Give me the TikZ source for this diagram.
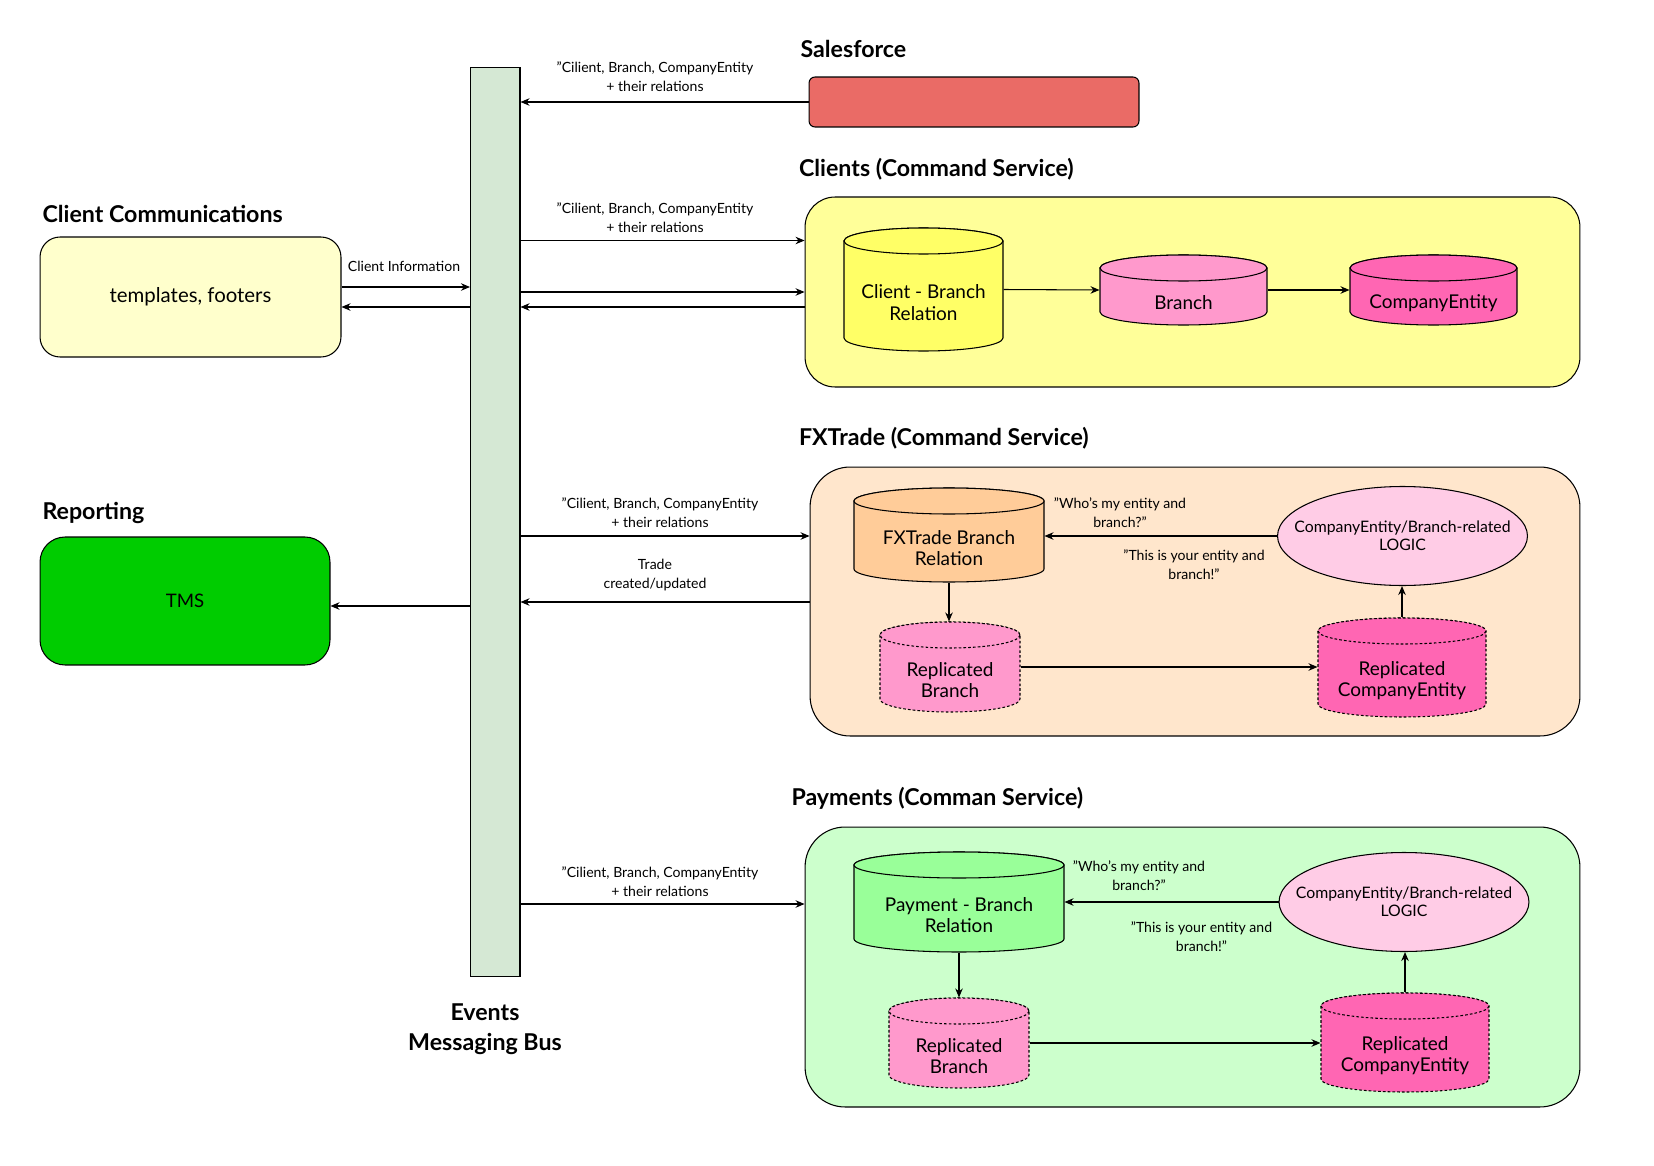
\documentclass[tikz,border=0pt]{standalone}
\usepackage{fontspec}
\setmainfont{Lato}
\usepackage{tikz}
\usetikzlibrary{arrows.meta,shapes.geometric}

\definecolor{busgreen}{HTML}{D5E8D4}
\definecolor{sfred}{HTML}{EA6B66}
\definecolor{commyellow}{HTML}{FFFFCC}
\definecolor{clyellow}{HTML}{FFFF99}
\definecolor{relyellow}{HTML}{FFFF66}
\definecolor{branchpink}{HTML}{FF99CC}
\definecolor{entitypink}{HTML}{FF66B3}
\definecolor{tmsgreen}{HTML}{00CC00}
\definecolor{fxorange}{HTML}{FFE6CC}
\definecolor{relorange}{HTML}{FFCC99}
\definecolor{logicpink}{HTML}{FFCCE6}
\definecolor{paygreen}{HTML}{CCFFCC}
\definecolor{relgreen}{HTML}{99FF99}

% database cylinder: name, cx, cy, half width, half height, style, text
\newcommand{\dbcyl}[7]{%
  \filldraw[#6] (#2-#4,#3-#5+13) -- (#2-#4,#3+#5-13)
    arc[start angle=180, end angle=0, x radius=#4, y radius=13]
    -- (#2+#4,#3-#5+13)
    arc[start angle=0, end angle=-180, x radius=#4, y radius=13] -- cycle;
  \filldraw[#6] (#2,#3-#5+13) ellipse[x radius=#4, y radius=13];
  \node[dbbox, minimum width=#4*0.04cm, minimum height=#5*0.04cm] (#1) at (#2,#3) {};
  \node[dbtext] (#1-t) at (#2,#3+13) {#7};
}

\begin{document}
\begin{tikzpicture}[x=0.02cm, y=-0.02cm, line width=0.6pt,
    heading/.style={font=\fontsize{13.2}{17.4}\selectfont\bfseries, anchor=west, inner sep=0},
    lbl/.style={font=\fontsize{8}{10.8}\selectfont, align=center, inner sep=0},
    dbtext/.style={font=\fontsize{10.8}{12.2}\selectfont, align=center, inner sep=0},
    dbbox/.style={draw=none, inner sep=0, rectangle},
    box/.style={draw, inner sep=0},
    logic/.style={draw, ellipse, fill=logicpink, inner xsep=-0.55cm, inner ysep=0,
      minimum width=5cm, minimum height=1.98cm, font=\fontsize{9}{10.5}\selectfont, align=center},
    repl/.style={dash pattern=on 1.5pt off 1.2pt},
    flow/.style={-{Stealth[length=1.8mm,width=1.5mm]}}]
  \useasboundingbox[fill=white] (0,0) rectangle (1654,1166);

  % messaging bus
  \node[box, fill=busgreen, minimum width=0.99cm, minimum height=18.19cm] (bus) at (495.25,522.25) {};
  \node[heading, anchor=center, align=center] (buslbl) at (485,1029) {Events\\Messaging Bus};

  % salesforce
  \node[heading] (sfhead) at (800,48.5) {Salesforce};
  \node[box, fill=sfred, rounded corners=0.12cm, minimum width=6.6cm, minimum height=1cm] (sf) at (974,102) {};

  % client communications
  \node[heading] (commhead) at (42,214) {Client Communications};
  \node[box, fill=commyellow, rounded corners=0.4cm, minimum width=6.02cm, minimum height=2.4cm,
    font=\fontsize{11.6}{13}\selectfont] (comm) at (190.5,297) {templates, footers};

  % reporting
  \node[heading] (rephead) at (42,513) {Reporting};
  \node[box, fill=tmsgreen, rounded corners=0.5cm, minimum width=5.8cm, minimum height=2.56cm,
    font=\fontsize{10.6}{12}\selectfont] (tms) at (185,601) {TMS};

  % clients service
  \node[heading] (clhead) at (798.5,169) {Clients (Command Service)};
  \node[box, fill=clyellow, rounded corners=0.6cm, minimum width=15.5cm, minimum height=3.8cm] (cl) at (1192.5,292) {};
  \dbcyl{cb}{923.5}{289.5}{79.5}{61.5}{fill=relyellow}{Client - Branch\\Relation}
  \dbcyl{br}{1183.5}{290}{83.5}{35}{fill=branchpink}{Branch}
  \dbcyl{ce}{1433.5}{290}{83.5}{35}{fill=entitypink}{CompanyEntity}
  \draw[flow] (cb.east) -- (br.west);
  \draw[flow] (br.east) -- (ce.west);

  % fxtrade service
  \node[heading] (fxhead) at (798.5,438) {FXTrade (Command Service)};
  \node[box, fill=fxorange, rounded corners=0.8cm, minimum width=15.4cm, minimum height=5.38cm] (fx) at (1195,601.5) {};
  \dbcyl{fxr}{949}{535}{95}{47}{fill=relorange}{FXTrade Branch\\Relation}
  \dbcyl{fxrb}{950}{667}{70}{45}{fill=branchpink, repl}{Replicated\\Branch}
  \dbcyl{fxrce}{1402}{667.5}{84}{49.5}{fill=entitypink, repl}{Replicated\\CompanyEntity}
  \node[logic] (fxlg) at (1402.5,536) {CompanyEntity/Branch-related\\LOGIC};
  \draw[flow] (fxlg.west) -- (fxlg.west -| fxr.east);
  \draw[flow] (fxr.south) -- (fxr.south |- fxrb.north);
  \draw[flow] (fxrb.east) -- (fxrb.east -| fxrce.west);
  \draw[flow] (fxrce.north) -- (fxrce.north |- fxlg.south);
  \node[lbl] (fxask) at (1120,512.6) {"Who's my entity and\\branch?"};
  \node[lbl] (fxans) at (1194,565) {"This is your entity and\\branch!"};

  % payments service
  \node[heading] (payhead) at (791,798.5) {Payments (Comman Service)};
  \node[box, fill=paygreen, rounded corners=0.8cm, minimum width=15.5cm, minimum height=5.6cm] (pay) at (1192.5,967) {};
  \dbcyl{pr}{959}{902}{105}{50}{fill=relgreen}{Payment - Branch\\Relation}
  \dbcyl{prb}{959}{1043}{70}{45}{fill=branchpink, repl}{Replicated\\Branch}
  \dbcyl{prce}{1405}{1042.5}{84}{49.5}{fill=entitypink, repl}{Replicated\\CompanyEntity}
  \node[logic] (pylg) at (1404,902) {CompanyEntity/Branch-related\\LOGIC};
  \draw[flow] (pylg.west) -- (pylg.west -| pr.east);
  \draw[flow] (pr.south) -- (pr.south |- prb.north);
  \draw[flow] (prb.east) -- (prb.east -| prce.west);
  \draw[flow] (prce.north) -- (prce.north |- pylg.south);
  \node[lbl] (payask) at (1139,875.5) {"Who's my entity and\\branch?"};
  \node[lbl] (payans) at (1201.5,937) {"This is your entity and\\branch!"};

  % bus connections
  \draw[flow] (sf.west) -- (sf.west -| bus.east);
  \node[lbl] (sflbl) at (655,77) {"Cilient, Branch, CompanyEntity\\+ their relations};
  \draw[flow] (bus.east |- 0,240.5) -- (cl.west |- 0,240.5);
  \node[lbl] (cllbl) at (655,217.5) {"Cilient, Branch, CompanyEntity\\+ their relations};
  \draw[flow] (bus.east |- 0,292) -- (cl.west |- 0,292);
  \draw[flow] (cl.west |- 0,307) -- (bus.east |- 0,307);
  \draw[flow] (comm.east |- 0,287) -- (bus.west |- 0,287);
  \draw[flow] (bus.west |- 0,307) -- (comm.east |- 0,307);
  \node[lbl] (commlbl) at (404,266) {Client Information};
  \draw[flow] (bus.west |- 0,606) -- (tms.east |- 0,606);
  \draw[flow] (bus.east |- 0,536) -- (fx.west |- 0,536);
  \node[lbl] (fxlbl) at (660,512.5) {"Cilient, Branch, CompanyEntity\\+ their relations};
  \draw[flow] (fx.west |- 0,602) -- (bus.east |- 0,602);
  \node[lbl] (tradelbl) at (655,575) {Trade\\created/updated};
  \draw[flow] (bus.east |- 0,904) -- (pay.west |- 0,904);
  \node[lbl] (paylbl) at (660,881.5) {"Cilient, Branch, CompanyEntity\\+ their relations};
\end{tikzpicture}
\end{document}
